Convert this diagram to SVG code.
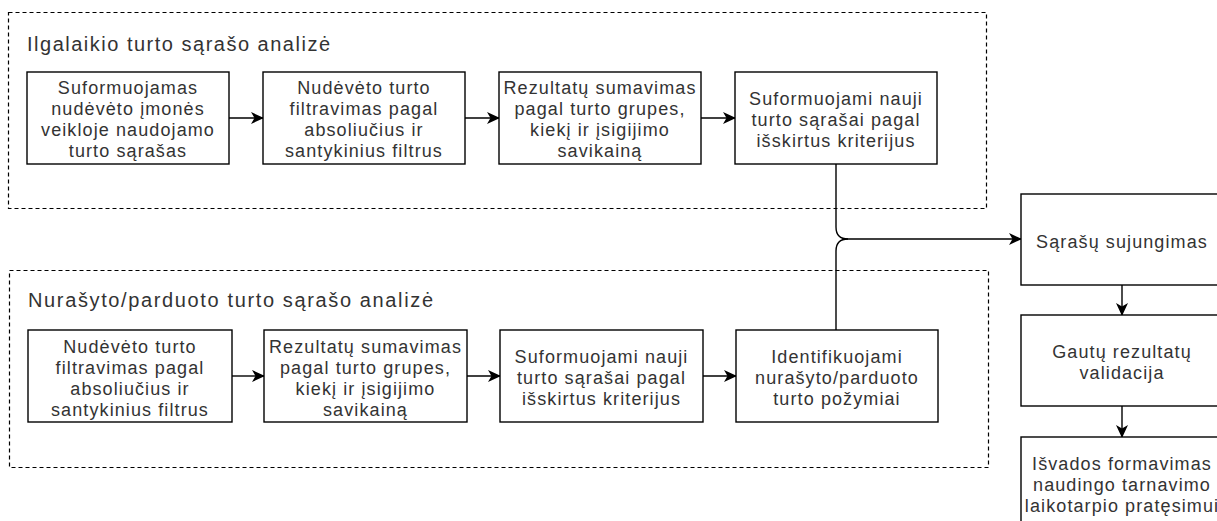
<svg xmlns="http://www.w3.org/2000/svg" width="1217" height="521" viewBox="0 0 1217 521">
<defs>
<marker id="arr" viewBox="0 0 13 12" refX="12" refY="6" markerWidth="13" markerHeight="12" markerUnits="userSpaceOnUse" orient="auto">
<path d="M0,0 L13,6 L0,12 L3.5,6 z" fill="#000"/>
</marker>
</defs>
<style>
.cont{fill:none;stroke:#000;stroke-width:1.2;stroke-dasharray:4 3}
.box{fill:#fff;stroke:#000;stroke-width:1.4}
.t{font-family:"Liberation Sans",Arial,sans-serif;font-size:18px;fill:#333;text-anchor:middle;letter-spacing:1.1px}
.title{font-family:"Liberation Sans",Arial,sans-serif;font-size:20px;fill:#333}
.c{fill:none;stroke:#000;stroke-width:1.4}
</style>
<rect width="1217" height="521" fill="#fff"/>

<g id="group-top">
<rect class="cont" x="8.5" y="12.5" width="978" height="196"/>
<text class="title" x="27" y="50.5" textLength="303" lengthAdjust="spacing">Ilgalaikio turto sąrašo analizė</text>
</g>
<g id="group-bottom">
<rect class="cont" x="9.5" y="270.5" width="979" height="197"/>
<text class="title" x="28" y="307" textLength="405" lengthAdjust="spacing">Nurašyto/parduoto turto sąrašo analizė</text>
</g>

<g id="connectors">
<path class="c" d="M229,118 L263,118" marker-end="url(#arr)"/>
<path class="c" d="M465,118 L499,118" marker-end="url(#arr)"/>
<path class="c" d="M701,118 L735,118" marker-end="url(#arr)"/>
<path class="c" d="M232,376 L264,376" marker-end="url(#arr)"/>
<path class="c" d="M467,376 L500,376" marker-end="url(#arr)"/>
<path class="c" d="M703,376 L736,376" marker-end="url(#arr)"/>
<path class="c" d="M836,164 L836,227 Q836,239 848,239 L1021,239" marker-end="url(#arr)"/>
<path class="c" d="M836,330 L836,251 Q836,239 848,239"/>
<path class="c" d="M1122,285 L1122,315" marker-end="url(#arr)"/>
<path class="c" d="M1122,406 L1122,437" marker-end="url(#arr)"/>
</g>

<g id="n1">
<rect class="box" x="27" y="72" width="202" height="92"/>
<text class="t" x="128" y="94">Suformuojamas</text>
<text class="t" x="128" y="115">nudėvėto įmonės</text>
<text class="t" x="128" y="136">veikloje naudojamo</text>
<text class="t" x="128" y="157">turto sąrašas</text>
</g>
<g id="n2">
<rect class="box" x="263" y="72" width="202" height="92"/>
<text class="t" x="364" y="94">Nudėvėto turto</text>
<text class="t" x="364" y="115">filtravimas pagal</text>
<text class="t" x="364" y="136">absoliučius ir</text>
<text class="t" x="364" y="157">santykinius filtrus</text>
</g>
<g id="n3">
<rect class="box" x="499" y="72" width="202" height="92"/>
<text class="t" x="600" y="94">Rezultatų sumavimas</text>
<text class="t" x="600" y="115">pagal turto grupes,</text>
<text class="t" x="600" y="136">kiekį ir įsigijimo</text>
<text class="t" x="600" y="157">savikainą</text>
</g>
<g id="n4">
<rect class="box" x="735" y="72" width="202" height="92"/>
<text class="t" x="836" y="105">Suformuojami nauji</text>
<text class="t" x="836" y="126">turto sąrašai pagal</text>
<text class="t" x="836" y="147">išskirtus kriterijus</text>
</g>

<g id="m1">
<rect class="box" x="28" y="330" width="204" height="92"/>
<text class="t" x="130" y="352.5">Nudėvėto turto</text>
<text class="t" x="130" y="373.5">filtravimas pagal</text>
<text class="t" x="130" y="394.5">absoliučius ir</text>
<text class="t" x="130" y="415.5">santykinius filtrus</text>
</g>
<g id="m2">
<rect class="box" x="264" y="330" width="203" height="92"/>
<text class="t" x="365.5" y="352.5">Rezultatų sumavimas</text>
<text class="t" x="365.5" y="373.5">pagal turto grupes,</text>
<text class="t" x="365.5" y="394.5">kiekį ir įsigijimo</text>
<text class="t" x="365.5" y="415.5">savikainą</text>
</g>
<g id="m3">
<rect class="box" x="500" y="330" width="203" height="92"/>
<text class="t" x="601.5" y="362.5">Suformuojami nauji</text>
<text class="t" x="601.5" y="383.5">turto sąrašai pagal</text>
<text class="t" x="601.5" y="404.5">išskirtus kriterijus</text>
</g>
<g id="m4">
<rect class="box" x="736" y="330" width="202" height="92"/>
<text class="t" x="837" y="362.5">Identifikuojami</text>
<text class="t" x="837" y="383.5">nurašyto/parduoto</text>
<text class="t" x="837" y="404.5">turto požymiai</text>
</g>

<g id="r1">
<rect class="box" x="1021" y="194" width="202" height="91"/>
<text class="t" x="1122" y="247.5">Sąrašų sujungimas</text>
</g>
<g id="r2">
<rect class="box" x="1021" y="315" width="202" height="91"/>
<text class="t" x="1122" y="357.5">Gautų rezultatų</text>
<text class="t" x="1122" y="378.5">validacija</text>
</g>
<g id="r3">
<rect class="box" x="1021" y="437" width="202" height="92"/>
<text class="t" x="1122" y="470">Išvados formavimas</text>
<text class="t" x="1122" y="491">naudingo tarnavimo</text>
<text class="t" x="1122" y="512">laikotarpio pratęsimui</text>
</g>
</svg>
